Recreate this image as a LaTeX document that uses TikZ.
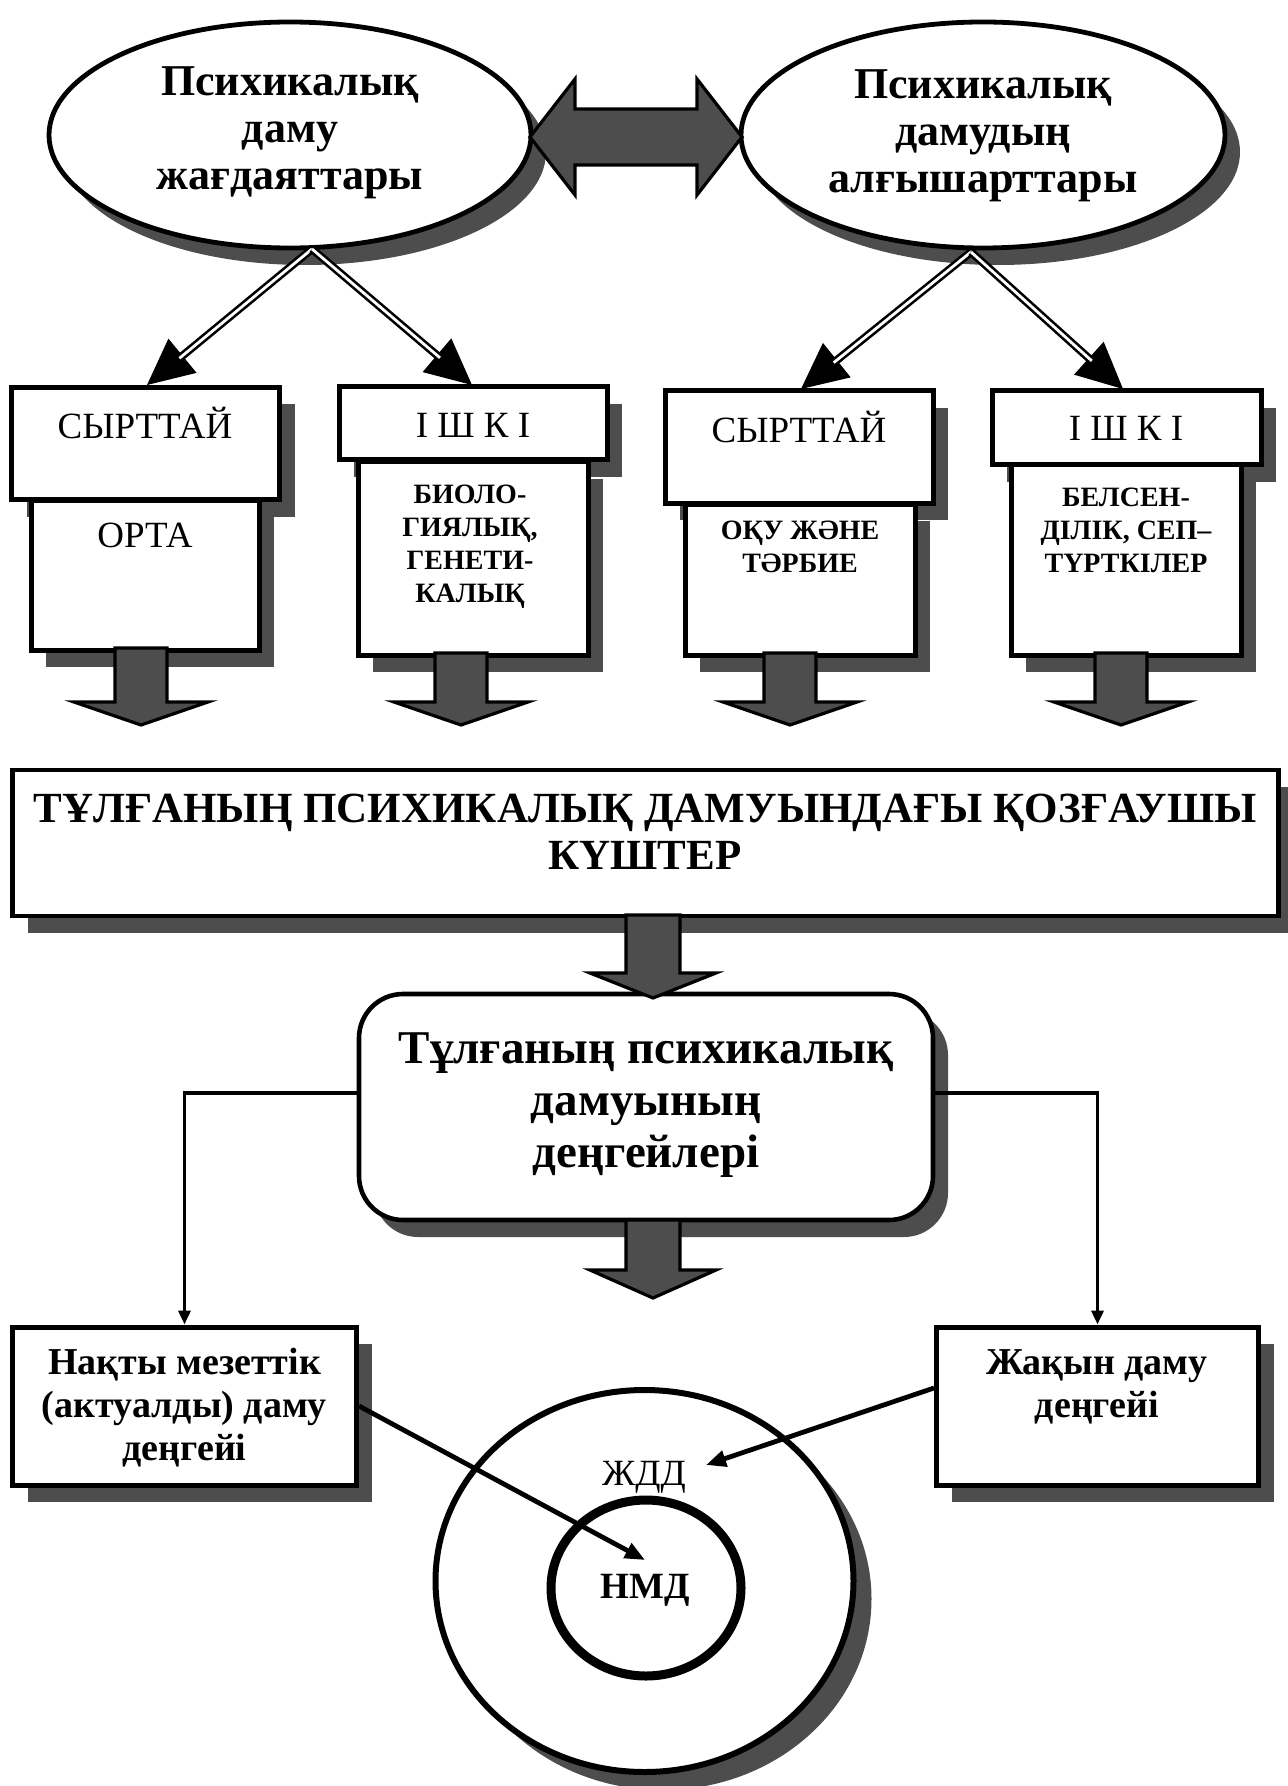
\documentclass[tikz,border=0pt]{standalone}
\usepackage{fontspec}
\setmainfont{Liberation Serif}
\usetikzlibrary{shapes.geometric,arrows.meta,shadows,calc}
\definecolor{shgray}{HTML}{4D4D4D}
\begin{document}
\begin{tikzpicture}[x=0.5pt,y=-0.5pt,
  shad/.style={drop shadow={shadow xshift=7.5pt,shadow yshift=-8.5pt,fill=shgray,opacity=1}},
  ell/.style={ellipse,draw,line width=2.4pt,fill=white,inner sep=0pt,shad},
  boxA/.style={draw,line width=2.5pt,fill=white,inner sep=0pt,shad},
  rbox/.style={draw,line width=2.3pt,fill=white,rounded corners=22pt,inner sep=0pt,shad},
  barrow/.style={draw=black,fill=shgray,line width=1.6pt,line join=miter},
  dbl/.style={draw,line width=1.3pt,double=white,double distance=1.4pt,shorten >=21pt},
  bighead/.style={line width=0.6pt,-{Triangle[length=23pt,width=22pt]}},
  conn/.style={line width=1.8pt,-{Triangle[length=7pt,width=6pt]}},
  conn2/.style={line width=2.4pt,-{Triangle[length=10pt,width=8pt]}},
  txt/.style={inner sep=0pt,align=center},
  ftE/.style={txt,font=\fontsize{22pt}{23.5pt}\selectfont\bfseries},
  ftR/.style={txt,font=\fontsize{18.5pt}{21pt}\selectfont},
  ftS/.style={txt,font=\fontsize{14pt}{16.5pt}\selectfont\bfseries},
  ftBig/.style={txt,font=\fontsize{21.5pt}{23.5pt}\selectfont\bfseries},
  ftRB/.style={txt,font=\fontsize{23.5pt}{26pt}\selectfont\bfseries},
  ftB/.style={txt,font=\fontsize{19pt}{21.5pt}\selectfont\bfseries}
]
\fill[white] (0,0) rectangle (1287,1786);
\useasboundingbox (0,0) rectangle (1287,1786);

% top ellipses
\node[ell,minimum width=241pt,minimum height=113pt] (E1) at (290,135) {};
\node[ell,minimum width=242pt,minimum height=113pt] (E2) at (983,135) {};
\node[ftE] (E1t) at (290,133) {Психикалық\\даму\\жағдаяттары};
\node[ftE] (E2t) at (983,136) {Психикалық\\дамудың\\алғышарттары};

% double block arrow between ellipses
\filldraw[barrow] (530,137) -- (575,79) -- (575,109) -- (697,109) -- (697,79) -- (742,137)
  -- (697,195) -- (697,165) -- (575,165) -- (575,195) -- cycle;

% row of boxes
\node[boxA,minimum width=134pt,minimum height=56pt] (b1t) at (145.5,443.5) {};
\node[boxA,minimum width=114pt,minimum height=75pt] (b1b) at (145,575) {};
\node[boxA,minimum width=134pt,minimum height=36.5pt] (b2t) at (473,423.5) {};
\node[boxA,minimum width=115pt,minimum height=96.5pt] (b2b) at (473,558.5) {};
\node[boxA,minimum width=134pt,minimum height=56pt] (b3t) at (799,447) {};
\node[boxA,minimum width=115pt,minimum height=75.5pt] (b3b) at (800,579.5) {};
\node[boxA,minimum width=134.5pt,minimum height=37pt] (b4t) at (1126.5,428) {};
\node[boxA,minimum width=115pt,minimum height=95pt] (b4b) at (1126,560) {};

\node[ftR] (t1a) at (145,423) {СЫРТТАЙ};
\node[ftR] (t1b) at (145,535) {ОРТА};
\node[ftR] (t2a) at (473,425) {І Ш К І};
\node[ftS] (t2b) at (470,547) {БИОЛО-\\ГИЯЛЫҚ,\\ГЕНЕТИ-\\КАЛЫҚ};
\node[ftR] (t3a) at (799,427) {СЫРТТАЙ};
\node[ftS] (t3b) at (800,547) {ОҚУ ЖӘНЕ\\ТӘРБИЕ};
\node[ftR] (t4a) at (1126,428) {І Ш К І};
\node[ftS] (t4b) at (1126,530) {БЕЛСЕН-\\ДІЛІК, СЕП–\\ТҮРТКІЛЕР};

% double-line connectors
\coordinate (s1) at (312,249);
\coordinate (s2) at (971,252);
\coordinate (h1) at (147,385);
\coordinate (h2) at (472,385);
\coordinate (h3) at (801,389);
\coordinate (h4) at (1123,389);
\foreach \s/\h in {s1/h1,s1/h2,s2/h3,s2/h4}{
  \draw[bighead] (\s) -- (\h);
  \draw[dbl] (\s) -- (\h);
}

% small block arrows
\filldraw[barrow] (115,648) -- (115,702) -- (74,702) -- (141,725) -- (208,702) -- (167,702) -- (167,648) -- cycle;
\filldraw[barrow] (435,653) -- (435,702) -- (394,702) -- (461,725) -- (528,702) -- (487,702) -- (487,653) -- cycle;
\filldraw[barrow] (764,653) -- (764,702) -- (723,702) -- (790,725) -- (857,702) -- (816,702) -- (816,653) -- cycle;
\filldraw[barrow] (1095,653) -- (1095,702) -- (1054,702) -- (1121,725) -- (1188,702) -- (1147,702) -- (1147,653) -- cycle;

% big box
\node[boxA,line width=2.3pt,minimum width=633pt,minimum height=73pt] (big) at (645.5,843) {};
\node[ftBig] (bigt) at (645,832) {ТҰЛҒАНЫҢ ПСИХИКАЛЫҚ ДАМУЫНДАҒЫ ҚОЗҒАУШЫ\\КҮШТЕР};

% rounded box
\node[rbox,minimum width=287pt,minimum height=113pt] (rb) at (646,1107) {};
\node[ftRB] (rbt) at (646,1105) {Тұлғаның психикалық\\дамуының\\деңгейлері};

% middle block arrows
\filldraw[barrow] (626,915) -- (626,973) -- (590,973) -- (653,998) -- (716,973) -- (680,973) -- (680,915) -- cycle;
\filldraw[barrow] (626,1220) -- (626,1270) -- (590,1270) -- (653,1298) -- (716,1270) -- (680,1270) -- (680,1220) -- cycle;

% bottom boxes
\node[boxA,minimum width=172pt,minimum height=79pt] (lb) at (184.5,1406) {};
\node[boxA,minimum width=161pt,minimum height=79pt] (rbx) at (1097.5,1406) {};
\node[ftB] (lbt) at (184.5,1408) {Нақты мезеттік\\(актуалды) даму\\деңгейі};
\node[ftB] (rbxt) at (1097,1387) {Жақын даму\\деңгейі};

% connectors from rounded box
\draw[conn] ($(rb.west)+(0,-14)$) -| (lb.north);
\draw[conn] ($(rb.east)+(0,-14)$) -| (rbx.north);

% bottom ellipses
\node[ellipse,draw,line width=3pt,fill=white,inner sep=0pt,minimum width=209pt,minimum height=191pt,
  drop shadow={shadow xshift=9pt,shadow yshift=-9pt,fill=shgray,opacity=1}] (outer) at (644.5,1581) {};
\node[ellipse,draw,line width=4.5pt,inner sep=0pt,minimum width=95pt,minimum height=88pt] (inner) at (646,1588) {};
\node[ftR] (zdd) at (644,1477) {ЖДД};
\node[ftR,font=\fontsize{18.5pt}{21pt}\selectfont\bfseries] (nmd) at (645,1590) {НМД};

\coordinate (tipA) at (645,1560);
\coordinate (tipB) at (706,1465);
\draw[conn2] (lb.east) -- (tipA);
\draw[conn2] ($(rbx.west)+(0,-18)$) -- (tipB);
\end{tikzpicture}
\end{document}
